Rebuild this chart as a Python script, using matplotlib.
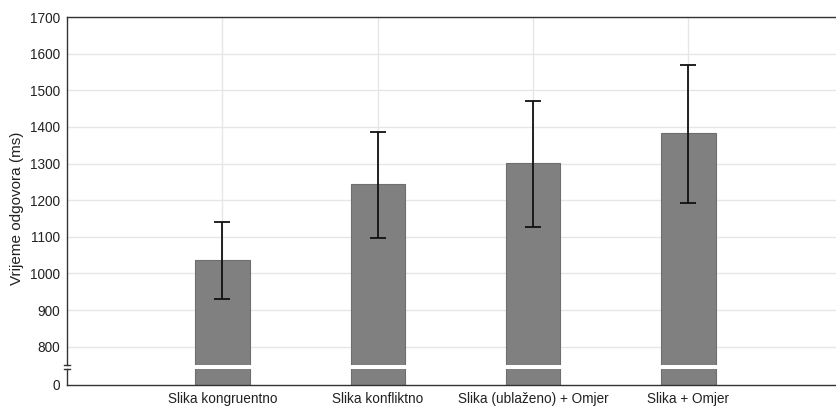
import matplotlib
matplotlib.use("Agg")
import matplotlib.pyplot as plt
import numpy as np

categories = ["Slika kongruentno", "Slika konfliktno", "Slika (ublaženo) + Omjer", "Slika + Omjer"]
means = [1036, 1244, 1301, 1382]
lower = [931, 1098, 1126, 1192]
upper = [1141, 1386, 1472, 1570]
yticks_top = [800, 900, 1000, 1100, 1200, 1300, 1400, 1500, 1600, 1700]

plt.rcParams['font.family'] = ['Liberation Sans', 'DejaVu Sans']

W, H = 836, 407
fig = plt.figure(figsize=(W/100, H/100), dpi=100)

left = 67 / W
width = (W - 67) / W
ax = fig.add_axes([left, (H - 365) / H, width, (365 - 17) / H])
axb = fig.add_axes([left, (H - 385) / H, width, (385 - 369) / H])

x = np.arange(1, len(categories) + 1)
bar_color = "#808080"
edge_color = "#6e6e6e"
grid_color = "#e6e6e6"
bw = 0.35

means_a = np.array(means)
yerr = np.vstack([means_a - np.array(lower), np.array(upper) - means_a])

for a in (ax, axb):
    a.bar(x, means, width=bw, color=bar_color, edgecolor=edge_color, linewidth=0.8, zorder=2)
    a.set_xlim(0, 4.95)
    a.set_facecolor("white")
    a.spines['right'].set_visible(False)
    for s in a.spines.values():
        s.set_color("#333333")
        s.set_linewidth(1.0)

ax.errorbar(x, means, yerr=yerr, fmt='none', ecolor='#111111', elinewidth=1.3,
            capsize=6, capthick=1.3, zorder=3)

ax.set_ylim(750, 1700)
ax.set_yticks(yticks_top)
ax.set_yticklabels([str(v) for v in yticks_top])
ax.set_xticks(x)
ax.tick_params(axis='x', length=0, labelbottom=False)
ax.tick_params(axis='y', length=0, pad=5, labelsize=9.8, colors='#222222')
ax.spines['bottom'].set_visible(False)
ax.grid(True, color=grid_color, linewidth=1.0, zorder=0)
ax.set_axisbelow(True)

fig.text(17 / W, (H - 208) / H, "Vrijeme odgovora (ms)", rotation=90,
         ha='center', va='center', fontsize=11, color='#222222')

axb.set_ylim(0, 40)
axb.set_yticks([0])
axb.set_yticklabels(["0"])
axb.set_xticks(x)
axb.set_xticklabels(categories)
axb.tick_params(axis='y', length=0, pad=5, labelsize=9.8, colors='#222222')
axb.tick_params(axis='x', length=2, direction='in', pad=5, labelsize=9.8, colors='#222222')
axb.spines['top'].set_visible(False)

# break marks on left spine
for yy in (365, 369):
    fig.add_artist(plt.Line2D([(64) / W, (70) / W], [(H - yy) / H, (H - yy) / H],
                              color="#333333", linewidth=1.0))

fig.savefig("out.png", dpi=100, facecolor="white")
